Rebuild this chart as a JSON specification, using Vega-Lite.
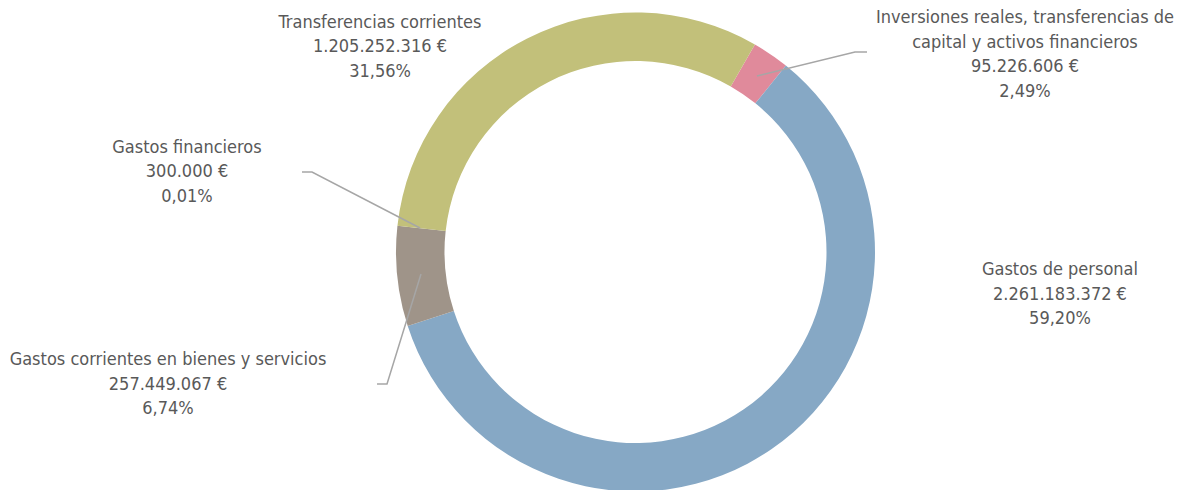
{
  "$schema": "https://vega.github.io/schema/vega-lite/v6.json",
  "width": 1099,
  "height": 476,
  "autosize": {"type": "none"},
  "padding": {"left": 86, "top": 14, "right": 0, "bottom": 0},
  "background": "white",
  "config": {"view": {"stroke": null}},
  "layer": [
    {
      "data": {
        "values": [
          {"concepto": "Inversiones reales, transferencias de capital y activos financieros", "importe": 95226606, "orden": 1},
          {"concepto": "Gastos de personal", "importe": 2261183372, "orden": 2},
          {"concepto": "Gastos corrientes en bienes y servicios", "importe": 257449067, "orden": 3},
          {"concepto": "Gastos financieros", "importe": 300000, "orden": 4},
          {"concepto": "Transferencias corrientes", "importe": 1205252316, "orden": 5}
        ]
      },
      "mark": {"type": "arc", "outerRadius": 239.5, "innerRadius": 191},
      "encoding": {
        "theta": {"field": "importe", "type": "quantitative", "stack": true, "scale": {"range": [0.522, 6.8052]}},
        "order": {"field": "orden", "type": "quantitative"},
        "color": {
          "field": "concepto",
          "type": "nominal",
          "legend": null,
          "scale": {
            "domain": ["Inversiones reales, transferencias de capital y activos financieros", "Gastos de personal", "Gastos corrientes en bienes y servicios", "Gastos financieros", "Transferencias corrientes"],
            "range": ["#E08A9B", "#86A8C5", "#9F9489", "#8A7F76", "#C2C07A"]
          }
        }
      }
    },
    {
      "data": {
        "values": [
          {"serie": "inv", "punto": 1, "x": 0.5073, "y": 0.7349},
          {"serie": "inv", "punto": 2, "x": 0.9165, "y": 0.8351},
          {"serie": "inv", "punto": 3, "x": 0.9666, "y": 0.8351},
          {"serie": "fin", "punto": 1, "x": -1.3925, "y": 0.334},
          {"serie": "fin", "punto": 2, "x": -1.3507, "y": 0.334},
          {"serie": "fin", "punto": 3, "x": -0.8998, "y": 0.1002},
          {"serie": "cor", "punto": 1, "x": -1.0793, "y": -0.5511},
          {"serie": "cor", "punto": 2, "x": -1.0376, "y": -0.5511},
          {"serie": "cor", "punto": 3, "x": -0.8956, "y": -0.0919}
        ]
      },
      "mark": {"type": "line", "color": "#A6A6A6", "strokeWidth": 1.5},
      "encoding": {
        "x": {"field": "x", "type": "quantitative", "scale": {"domain": [-2.2944, 2.2944], "nice": false, "zero": false}, "axis": null},
        "y": {"field": "y", "type": "quantitative", "scale": {"domain": [-0.99374, 0.99374], "nice": false, "zero": false}, "axis": null},
        "detail": {"field": "serie", "type": "nominal"},
        "order": {"field": "punto", "type": "quantitative"}
      }
    },
    {
      "data": {
        "values": [
          {"etiqueta": "Transferencias corrientes\n1.205.252.316 €\n31,56%", "x": -1.0668, "y": 0.9582},
          {"etiqueta": "Inversiones reales, transferencias de\ncapital y activos financieros\n95.226.606 €\n2,49%", "x": 1.6263, "y": 0.975},
          {"etiqueta": "Gastos de personal\n2.261.183.372 €\n59,20%", "x": 1.7724, "y": -0.0772},
          {"etiqueta": "Gastos financieros\n300.000 €\n0,01%", "x": -1.8727, "y": 0.4363},
          {"etiqueta": "Gastos corrientes en bienes y servicios\n257.449.067 €\n6,74%", "x": -1.952, "y": -0.453}
        ]
      },
      "mark": {"type": "text", "align": "center", "baseline": "middle", "lineBreak": "\n", "lineHeight": 24.5, "font": "DejaVu Sans Condensed", "fontSize": 18, "color": "#595959"},
      "encoding": {
        "x": {"field": "x", "type": "quantitative", "scale": {"domain": [-2.2944, 2.2944], "nice": false, "zero": false}, "axis": null},
        "y": {"field": "y", "type": "quantitative", "scale": {"domain": [-0.99374, 0.99374], "nice": false, "zero": false}, "axis": null},
        "text": {"field": "etiqueta", "type": "nominal"}
      }
    }
  ]
}
